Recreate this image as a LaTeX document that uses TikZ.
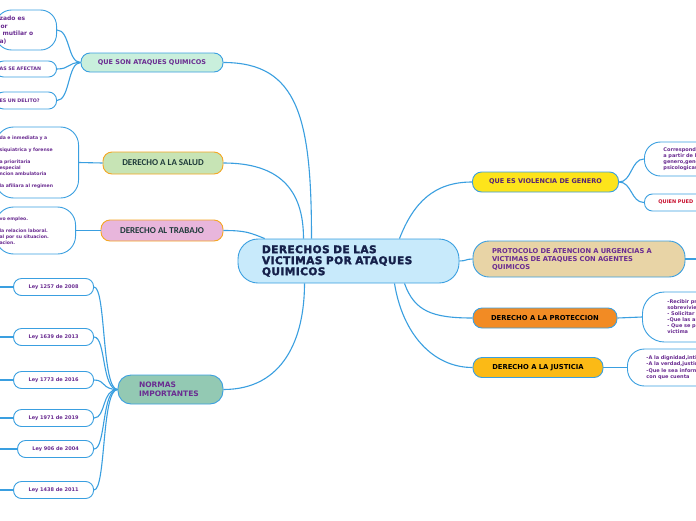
\documentclass[tikz,border=0pt]{standalone}
\usepackage{fontspec}
\setmainfont{DejaVu Sans}
\newfontfamily\headfont{Carlito}
\newfontfamily\titlefont{DejaVu Sans}[FakeBold=2.2, LetterSpace=4]

\definecolor{linkblue}{HTML}{3A9FE0}
\definecolor{centerblue}{HTML}{C8EAFB}
\definecolor{titlenavy}{HTML}{15204A}
\definecolor{txtpurple}{HTML}{6A2C91}
\definecolor{txtslate}{HTML}{1E3A3A}
\definecolor{txtred}{HTML}{C8102E}
\definecolor{mintfill}{HTML}{C9EFDC}
\definecolor{saludfill}{HTML}{C7E4B5}
\definecolor{trabajofill}{HTML}{E8B6DC}
\definecolor{normasfill}{HTML}{93C9B3}
\definecolor{violfill}{HTML}{FDE41B}
\definecolor{protofill}{HTML}{E8D4A6}
\definecolor{protecfill}{HTML}{F28B24}
\definecolor{justfill}{HTML}{FBBA16}
\definecolor{orangeline}{HTML}{F5A623}

\tikzset{
  link/.style={draw=linkblue, line width=1.1pt},
  branch/.style={draw=linkblue, line width=0.9pt, rounded corners=9pt,
    font=\bfseries\fontsize{6.5}{8}\selectfont, text=txtpurple},
  leaf/.style={draw=linkblue, line width=0.9pt, fill=white, align=left,
    text=txtpurple, font=\bfseries\fontsize{4.6}{6}\selectfont},
  ley/.style={leaf, align=center, rounded corners=8pt, minimum width=80pt,
    minimum height=17pt, anchor=east, font=\bfseries\fontsize{5}{6}\selectfont}
}

\begin{document}
\begin{tikzpicture}[x=1pt, y=-1pt]
    % Fix the page
    \useasboundingbox (0,0) rectangle (696,520);
    \fill[white] (0,0) rectangle (696,520);
    \clip (0,0) rectangle (696,520);

    % Central topic
    \node[draw=linkblue, line width=0.9pt, fill=centerblue, rounded corners=20pt,
      text width=173pt, inner xsep=24pt, minimum height=44pt, align=left,
      text=titlenavy, font=\titlefont\bfseries\fontsize{10.6}{11}\selectfont]
      (dv) at (348.5,261) {DERECHOS DE LAS\\VICTIMAS POR ATAQUES\\QUIMICOS};

    % Branches on the left
    \node[branch, fill=mintfill, minimum width=142pt, minimum height=19pt] (qs) at (152,62.5) {QUE SON ATAQUES QUIMICOS};
    \node[branch, draw=orangeline, fill=saludfill, minimum width=120pt, minimum height=22pt,
      text=txtslate, font=\headfont\bfseries\fontsize{9}{10}\selectfont] (sa) at (163,163) {DERECHO A LA SALUD};
    \node[branch, draw=orangeline, fill=trabajofill, minimum width=122pt, minimum height=21pt,
      text=txtslate, font=\headfont\bfseries\fontsize{9}{10}\selectfont] (tr) at (162,230.5) {DERECHO AL TRABAJO};
    \node[branch, fill=normasfill, rounded corners=13pt, text width=63pt, inner xsep=21pt,
      minimum height=29pt, align=left, font=\bfseries\fontsize{7.5}{9}\selectfont] (nm) at (170.5,389.5) {NORMAS\\IMPORTANTES};

    % Branches on the right
    \node[branch, fill=violfill, minimum width=146pt, minimum height=20pt, text=txtpurple!80!black] (vi) at (545.5,182) {QUE ES VIOLENCIA DE GENERO};
    \node[branch, fill=protofill, rounded corners=16pt, text width=174pt, inner xsep=19pt,
      minimum height=36pt, align=left, font=\bfseries\fontsize{6.7}{8}\selectfont] (pr) at (579,259)
      {PROTOCOLO DE ATENCION A URGENCIAS A\\VICTIMAS DE ATAQUES CON AGENTES\\QUIMICOS};
    \node[branch, fill=protecfill, minimum width=144pt, minimum height=20pt, text=black,
      font=\bfseries\fontsize{6.8}{8}\selectfont] (pt) at (545,318) {DERECHO A LA PROTECCION};
    \node[branch, fill=justfill, minimum width=130pt, minimum height=20pt, text=black,
      font=\bfseries\fontsize{6.8}{8}\selectfont] (ju) at (538,367.5) {DERECHO A LA JUSTICIA};

    % Leaves on the left
    \node[leaf, anchor=east, rounded corners=16pt, text width=53pt, inner xsep=4pt, minimum height=40pt,
      font=\bfseries\fontsize{6}{7.7}\selectfont] (lq1) at (57,30) {zado es\\\hspace{1pt}or\\\hspace{3pt}mutilar o\\a)};
    \node[leaf, anchor=east, rounded corners=8pt, text width=53pt, inner xsep=4pt, minimum height=16pt,
      font=\bfseries\fontsize{4.8}{6}\selectfont] (lq2) at (57,69) {AS SE AFECTAN};
    \node[leaf, anchor=east, rounded corners=8pt, text width=53pt, inner xsep=4pt, minimum height=17pt,
      font=\bfseries\fontsize{4.8}{6}\selectfont] (lq3) at (57,100.5) {ES UN DELITO?};
    \node[leaf, anchor=east, rounded corners=18pt, text width=75pt, inner xsep=4pt, minimum height=71pt] (ls) at (79,162.5)
      {da e inmediata y a\\[6pt]siquiatrica y forense\\[6pt]a prioritaria\\especial\\ncion ambulatoria\\[6pt]la afiliara al regimen};
    \node[leaf, anchor=east, rounded corners=18pt, text width=72pt, inner xsep=4pt, minimum height=47pt] (lt) at (76,230.5)
      {vo empleo.\\[6pt]la relacion laboral.\\al por su situacion.\\acion.};

    % Laws
    \node[ley] (ly1) at (94,287) {Ley 1257 de 2008};
    \node[ley] (ly2) at (94,337) {Ley 1639 de 2013};
    \node[ley] (ly3) at (94,380) {Ley 1773 de 2016};
    \node[ley] (ly4) at (94,418) {Ley 1971 de 2019};
    \node[ley, minimum width=76pt] (ly5) at (94,449) {Ley 906 de 2004};
    \node[ley] (ly6) at (94,490) {Ley 1438 de 2011};

    % Leaves on the right
    \node[leaf, anchor=west, rounded corners=16pt, text width=60pt, inner xsep=19pt, minimum height=34pt,
      font=\bfseries\fontsize{5}{6}\selectfont] (rv1) at (644,159) {Corresponde\\a partir de l\\genero,gene\\psicologicas};
    \node[leaf, anchor=west, rounded corners=8pt, text width=60pt, inner xsep=14pt, minimum height=17pt,
      text=txtred, font=\bfseries\fontsize{5}{6}\selectfont] (rv2) at (644,202.5) {QUIEN PUED};
    \node[leaf, anchor=west, rounded corners=22pt, text width=60pt, inner xsep=25pt, minimum height=50pt,
      font=\bfseries\fontsize{5}{6}\selectfont] (rp) at (642,317) {-Recibir pr\\sobrevivie\\- Solicitar\\-Que las ar\\- Que se p\\victima};
    \node[leaf, anchor=west, rounded corners=17pt, text width=70pt, inner xsep=19pt, minimum height=37pt,
      font=\bfseries\fontsize{5}{6.3}\selectfont] (rj) at (627,367.5) {-A la dignidad,inti\\-A la verdad,justic\\-Que le sea inform\\con que cuenta};

    % Ends that run off the page
    \coordinate (e1) at (-6,287);
    \coordinate (e2) at (-6,337);
    \coordinate (e3) at (-6,380);
    \coordinate (e4) at (-6,418);
    \coordinate (e5) at (-6,449);
    \coordinate (e6) at (-6,490);
    \coordinate (ep) at (702,259);

    % Draw the connectors from the central topic
    \draw[link] ([xshift=-37pt]dv.north) .. controls +(0,-120) and +(75,0) .. (qs.east);
    \draw[link] ([xshift=-45pt]dv.north) .. controls +(0,-50) and +(55,0) .. (sa.east);
    \draw[link] (dv.165) .. controls +(-15,-6) and +(22,0) .. (tr.east);
    \draw[link] ([xshift=-44pt]dv.south) .. controls +(0,55) and +(60,0) .. (nm.east);
    \draw[link] ([xshift=51pt]dv.north) .. controls +(14,-36) and +(-38,0) .. (vi.west);
    \draw[link] (dv.east) .. controls +(7,0) and +(-7,0) .. (pr.west);
    \draw[link] ([xshift=56pt]dv.south) .. controls +(10,28) and +(-40,0) .. (pt.west);
    \draw[link] ([xshift=46pt]dv.south) .. controls +(8,50) and +(-40,0) .. (ju.west);

    % Draw the connectors to the leaves
    \draw[link] (qs.west) .. controls +(-13,0) and +(13,0) .. (lq1.east);
    \draw[link] (qs.west) .. controls +(-13,0) and +(13,0) .. (lq2.east);
    \draw[link] (qs.west) .. controls +(-13,0) and +(13,0) .. (lq3.east);
    \draw[link] (sa.west) -- (ls.east);
    \draw[link] (tr.west) -- (lt.east);
    \draw[link] (nm.west) .. controls +(-16,0) and +(12,0) .. (ly1.east);
    \draw[link] (nm.west) .. controls +(-16,0) and +(12,0) .. (ly2.east);
    \draw[link] (nm.west) .. controls +(-16,0) and +(12,0) .. (ly3.east);
    \draw[link] (nm.west) .. controls +(-16,0) and +(12,0) .. (ly4.east);
    \draw[link] (nm.west) .. controls +(-16,0) and +(12,0) .. (ly5.east);
    \draw[link] (nm.west) .. controls +(-16,0) and +(12,0) .. (ly6.east);
    \draw[link] (vi.east) .. controls +(13,0) and +(-13,0) .. (rv1.west);
    \draw[link] (vi.east) .. controls +(13,0) and +(-13,0) .. (rv2.west);
    \draw[link] (pr.east) -- (ep);
    \draw[link] (pt.east) -- (rp.west);
    \draw[link] (ju.east) -- (rj.west);

    % Connectors to the children off the page
    \draw[link] (ly1.west) -- (e1);
    \draw[link] (ly2.west) -- (e2);
    \draw[link] (ly3.west) -- (e3);
    \draw[link] (ly4.west) -- (e4);
    \draw[link] (ly5.west) -- (e5);
    \draw[link] (ly6.west) -- (e6);
\end{tikzpicture}
\end{document}
